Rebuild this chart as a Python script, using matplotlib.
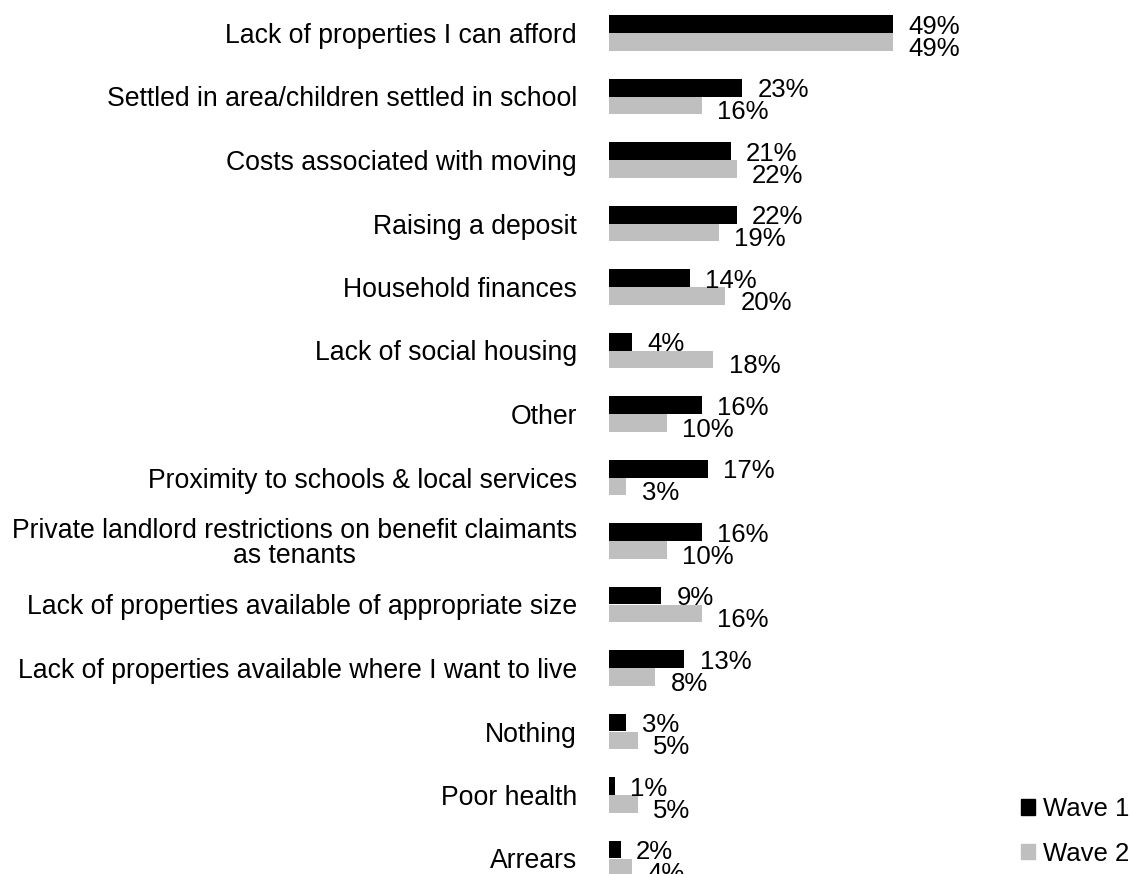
import numpy as np
import matplotlib.pyplot as plt
from matplotlib.patches import Patch

plt.rcParams['font.family'] = ['Liberation Sans', 'DejaVu Sans']

categories = [
    "Lack of properties I can afford",
    "Settled in area/children settled in school",
    "Costs associated with moving",
    "Raising a deposit",
    "Household finances",
    "Lack of social housing",
    "Other",
    "Proximity to schools & local services",
    "Private landlord restrictions on benefit claimants\nas tenants",
    "Lack of properties available of appropriate size",
    "Lack of properties available where I want to live",
    "Nothing",
    "Poor health",
    "Arrears",
]
wave1 = [49, 23, 21, 22, 14, 4, 16, 17, 16, 9, 13, 3, 1, 2]
wave2 = [49, 16, 22, 19, 20, 18, 10, 3, 10, 16, 8, 5, 5, 4]

black = "#000000"
grey = "#bfbfbf"

W, H = 1130, 874
fig = plt.figure(figsize=(W / 100, H / 100), dpi=100)

# axes start where the bars begin, run to the right edge
x0 = 609
ax = fig.add_axes([x0 / W, 0, (W - x0) / W, 1])

px_per_pct = 5.8
row_px = 63.5
first_row = 33
ax.set_xlim(0, (W - x0) / px_per_pct)
ax.set_ylim((H - first_row) / row_px, -first_row / row_px)

y = np.arange(len(categories))
h = 0.28
ax.barh(y - h / 2, wave1, height=h, color=black, label="Wave 1")
ax.barh(y + h / 2, wave2, height=h, color=grey, label="Wave 2")

for yi, v in zip(y, wave1):
    ax.annotate(f"{v}%", (v, yi - h / 2), xytext=(11, -2), textcoords="offset points",
                ha="left", va="center", fontsize=18.5)
for yi, v in zip(y, wave2):
    ax.annotate(f"{v}%", (v, yi + h / 2), xytext=(11, -5), textcoords="offset points",
                ha="left", va="center", fontsize=18.5)

ax.set_yticks(y)
ax.set_yticklabels(categories, fontsize=19.2, ha="right", multialignment="center",
                   linespacing=0.95)
ax.tick_params(axis="y", length=0, pad=23)
ax.set_xticks([])
for s in ax.spines.values():
    s.set_visible(False)

handles = [Patch(color=black), Patch(color=grey)]
fig.legend(handles, ["Wave 1", "Wave 2"], loc="lower right",
           bbox_to_anchor=(1.013, -0.008), frameon=False, fontsize=18.5,
           handlelength=0.55, handleheight=0.55, handletextpad=0.3,
           labelspacing=0.8, borderaxespad=0.2)

fig.savefig("out.png", dpi=100)
